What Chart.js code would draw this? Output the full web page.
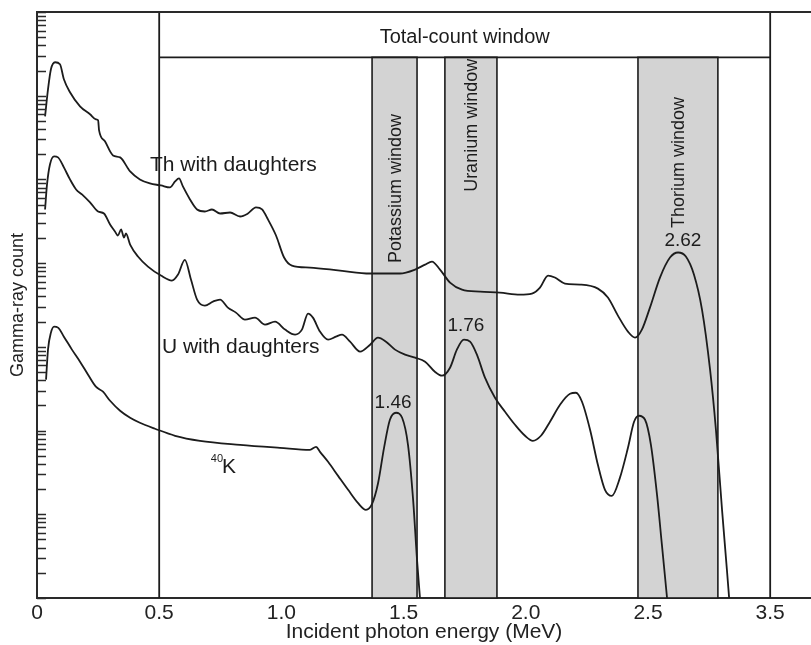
<!DOCTYPE html>
<html>
<head>
<meta charset="utf-8">
<script src="https://cdn.jsdelivr.net/npm/chart.js@4.4.1/dist/chart.umd.min.js"></script>
<style>
  html, body { margin: 0; padding: 0; background: #ffffff; }
  #wrap { width: 811px; height: 645px; position: relative; }
</style>
</head>
<body>
<div id="wrap"><canvas id="chart" width="811" height="645"></canvas></div>
<script>
// ---------------- data (energy in MeV, log10 of gamma-ray count) ----------------
const xTickValues = [0, 0.5, 1.0, 1.5, 2.0, 2.5, 3.0];
const xTickLabels = ['0', '0.5', '1.0', '1.5', '2.0', '2.5', '3.5'];
const yDecadeExponents = [0, 1, 2, 3, 4, 5, 6];
const yMinorMultipliers = [1, 2, 3, 4, 5, 6, 7, 8, 9];

const thSpectrum = [
  [0.033,5.754],[0.045,6.077],[0.057,6.316],[0.074,6.400],[0.094,6.376],[0.110,6.196],
  [0.135,6.041],[0.176,5.873],[0.217,5.778],[0.241,5.718],[0.250,5.706],[0.254,5.586],
  [0.278,5.455],[0.311,5.287],[0.340,5.263],[0.381,5.096],[0.421,5.000],[0.462,4.952],
  [0.507,4.928],[0.544,4.904],[0.565,4.976],[0.581,5.012],[0.597,4.916],[0.626,4.761],
  [0.655,4.641],[0.687,4.617],[0.716,4.641],[0.749,4.593],[0.790,4.605],[0.831,4.557],
  [0.863,4.593],[0.896,4.665],[0.921,4.641],[0.945,4.522],[0.978,4.330],[1.011,4.067],
  [1.043,3.971],[1.117,3.947],[1.240,3.911],[1.363,3.876],[1.485,3.876],[1.547,3.923],
  [1.588,3.983],[1.616,4.019],[1.649,3.923],[1.690,3.768],[1.739,3.684],[1.813,3.660],
  [1.894,3.648],[1.976,3.624],[2.025,3.636],[2.058,3.708],[2.091,3.852],[2.119,3.828],
  [2.160,3.756],[2.222,3.744],[2.295,3.696],[2.336,3.589],[2.377,3.373],[2.418,3.182],
  [2.447,3.110],[2.475,3.206],[2.508,3.469],[2.549,3.828],[2.590,4.067],[2.623,4.127],
  [2.655,4.079],[2.688,3.864],[2.721,3.445],[2.754,2.727],[2.778,2.010],[2.803,1.053],
  [2.823,0.335],[2.832,0]
];

const uSpectrum = [
  [0.033,4.641],[0.041,4.940],[0.053,5.179],[0.070,5.275],[0.086,5.263],[0.110,5.144],
  [0.135,5.000],[0.160,4.880],[0.184,4.821],[0.217,4.725],[0.250,4.617],[0.274,4.593],
  [0.299,4.462],[0.319,4.378],[0.331,4.330],[0.344,4.402],[0.356,4.306],[0.364,4.354],
  [0.381,4.222],[0.413,4.079],[0.454,3.959],[0.507,3.852],[0.552,3.792],[0.577,3.864],
  [0.605,4.040],[0.630,3.804],[0.655,3.565],[0.687,3.493],[0.720,3.541],
  [0.749,3.565],[0.781,3.469],[0.814,3.409],[0.851,3.325],[0.892,3.349],[0.933,3.266],
  [0.974,3.301],[1.015,3.206],[1.056,3.146],[1.084,3.206],[1.109,3.397],[1.129,3.349],
  [1.158,3.182],[1.191,3.086],[1.223,3.122],[1.248,3.146],[1.281,3.062],[1.322,2.943],
  [1.363,3.026],[1.395,3.110],[1.428,3.062],[1.465,2.967],[1.506,2.907],[1.547,2.871],
  [1.588,2.823],[1.628,2.703],[1.657,2.656],[1.690,2.751],[1.718,2.967],[1.747,3.086],
  [1.772,3.062],[1.800,2.907],[1.833,2.632],[1.874,2.392],[1.915,2.225],[1.956,2.069],
  [1.997,1.938],[2.029,1.878],[2.062,1.938],[2.099,2.105],[2.140,2.309],[2.181,2.440],
  [2.205,2.452],[2.230,2.344],[2.263,2.010],[2.295,1.591],[2.324,1.292],[2.352,1.220],
  [2.385,1.435],[2.418,1.794],[2.443,2.105],[2.463,2.177],[2.488,2.129],[2.512,1.830],
  [2.537,1.232],[2.557,0.634],[2.578,0]
];

const kSpectrum = [
  [0.037,2.608],[0.045,2.967],[0.057,3.170],[0.070,3.242],[0.086,3.230],[0.110,3.122],
  [0.143,2.967],[0.176,2.823],[0.209,2.667],[0.241,2.524],[0.270,2.464],[0.299,2.356],
  [0.340,2.237],[0.381,2.153],[0.421,2.093],[0.483,2.022],[0.565,1.938],[0.667,1.878],
  [0.831,1.830],[0.994,1.794],[1.117,1.770],[1.142,1.806],[1.158,1.746],[1.191,1.627],
  [1.232,1.459],[1.273,1.292],[1.313,1.136],[1.346,1.053],[1.371,1.124],[1.395,1.364],
  [1.420,1.794],[1.444,2.129],[1.469,2.213],[1.494,2.153],[1.518,1.830],[1.539,1.172],
  [1.555,0.455],[1.567,0]
];

const windowNames = ['Potassium window', 'Uranium window', 'Thorium window'];
const windowStart = [1.371, 1.669, 2.459];
const windowEnd   = [1.555, 1.882, 2.786];
const totalWindow = [0.5, 3.0];
const totalWindowName = 'Total-count window';
const totalWindowBoxLog = 6.459;       // lower edge of the total-count box (log10 count)
const peakLabels = ['1.46', '1.76', '2.62'];
const seriesNames = ['Th with daughters', 'U with daughters', 'K'];

// ---------------- presentation ----------------
const INK = '#1c1c1c';
const AXIS = '#2a2a2a';
const FONT = '"Liberation Sans", Arial, Helvetica, sans-serif';
const layoutText = {
  total:   { x: 1.75,  y: 6.699 },
  windowY: [4.892, 5.646, 5.203],
  th:      { x: 0.462, y: 5.167 },
  u:       { x: 0.511, y: 2.990 },
  k:       { x: 0.757, y: 1.567, supY: 1.66 },
  peaks:   [{ x: 1.457, y: 2.333 }, { x: 1.755, y: 3.254 }, { x: 2.643, y: 4.270 }]
};

const toPoints = s => s.map(p => ({ x: p[0], y: Math.pow(10, p[1]) }));
const yTickValues = [];
yDecadeExponents.forEach(e => yMinorMultipliers.forEach(m => yTickValues.push(m * Math.pow(10, e))));
yTickValues.push(1e7);

const decor = {
  id: 'decor',
  beforeDatasetsDraw(chart) {
    const { ctx, chartArea: a, scales: { x, y } } = chart;
    const boxY = y.getPixelForValue(Math.pow(10, totalWindowBoxLog));
    ctx.save();
    // element windows
    for (let i = 0; i < windowNames.length; i++) {
      const x0 = x.getPixelForValue(windowStart[i]);
      const x1 = x.getPixelForValue(windowEnd[i]);
      ctx.fillStyle = '#d3d3d3';
      ctx.fillRect(x0, boxY, x1 - x0, a.bottom - boxY);
      ctx.strokeStyle = INK;
      ctx.lineWidth = 1.6;
      ctx.strokeRect(x0, boxY, x1 - x0, a.bottom - boxY);
    }
    // total-count window
    const t0 = x.getPixelForValue(totalWindow[0]);
    const t1 = x.getPixelForValue(totalWindow[1]);
    ctx.strokeStyle = INK;
    ctx.lineWidth = 1.8;
    ctx.beginPath();
    ctx.moveTo(t0, a.top); ctx.lineTo(t0, a.bottom);
    ctx.moveTo(t1, a.top); ctx.lineTo(t1, a.bottom);
    ctx.moveTo(t0, boxY); ctx.lineTo(t1, boxY);
    ctx.stroke();
    // window labels (rotated)
    ctx.fillStyle = INK;
    ctx.font = '18px ' + FONT;
    ctx.textAlign = 'center';
    ctx.textBaseline = 'middle';
    for (let i = 0; i < windowNames.length; i++) {
      const cx = x.getPixelForValue((windowStart[i] + windowEnd[i]) / 2);
      const cy = y.getPixelForValue(Math.pow(10, layoutText.windowY[i]));
      ctx.save();
      ctx.translate(cx, cy);
      ctx.rotate(-Math.PI / 2);
      ctx.fillText(windowNames[i], 0, 1);
      ctx.restore();
    }
    ctx.font = '20px ' + FONT;
    ctx.fillText(totalWindowName, x.getPixelForValue(layoutText.total.x), y.getPixelForValue(Math.pow(10, layoutText.total.y)));
    ctx.restore();
  },
  afterDraw(chart) {
    const { ctx, chartArea: a, scales: { x, y } } = chart;
    ctx.save();
    // top frame line
    ctx.strokeStyle = AXIS;
    ctx.lineWidth = 2;
    ctx.beginPath();
    ctx.moveTo(a.left, a.top); ctx.lineTo(a.right, a.top);
    ctx.stroke();
    // inward log ticks on the y axis
    ctx.lineWidth = 1.6;
    ctx.beginPath();
    y.ticks.forEach(t => {
      const py = Math.round(y.getPixelForValue(t.value)) + 0.5;
      ctx.moveTo(a.left, py); ctx.lineTo(a.left + 9, py);
    });
    ctx.stroke();
    // series labels
    ctx.fillStyle = INK;
    ctx.textBaseline = 'middle';
    ctx.font = '21px ' + FONT;
    ctx.textAlign = 'left';
    ctx.fillText(seriesNames[0], x.getPixelForValue(layoutText.th.x), y.getPixelForValue(Math.pow(10, layoutText.th.y)));
    ctx.fillText(seriesNames[1], x.getPixelForValue(layoutText.u.x), y.getPixelForValue(Math.pow(10, layoutText.u.y)));
    const kx = x.getPixelForValue(layoutText.k.x);
    ctx.fillText(seriesNames[2], kx, y.getPixelForValue(Math.pow(10, layoutText.k.y)));
    ctx.font = '11px ' + FONT;
    ctx.textAlign = 'right';
    ctx.fillText('40', kx + 1, y.getPixelForValue(Math.pow(10, layoutText.k.supY)));
    // peak energies
    ctx.font = '19px ' + FONT;
    ctx.textAlign = 'center';
    layoutText.peaks.forEach((p, i) => {
      ctx.fillText(peakLabels[i], x.getPixelForValue(p.x), y.getPixelForValue(Math.pow(10, p.y)));
    });
    ctx.restore();
  }
};

const lineStyle = {
  borderColor: INK,
  borderWidth: 1.8,
  pointRadius: 0,
  fill: false,
  cubicInterpolationMode: 'monotone'
};

new Chart(document.getElementById('chart'), {
  type: 'line',
  data: {
    datasets: [
      Object.assign({ label: seriesNames[0], data: toPoints(thSpectrum) }, lineStyle),
      Object.assign({ label: seriesNames[1], data: toPoints(uSpectrum) }, lineStyle),
      Object.assign({ label: '40K', data: toPoints(kSpectrum) }, lineStyle)
    ]
  },
  options: {
    responsive: false,
    animation: false,
    events: [],
    layout: { padding: { top: 12, right: 0, left: 0, bottom: 0 } },
    plugins: { legend: { display: false }, tooltip: { enabled: false } },
    scales: {
      x: {
        type: 'linear',
        min: 0,
        max: 3.167,
        afterBuildTicks: s => { s.ticks = xTickValues.map(v => ({ value: v })); },
        afterFit: s => { s.height = 47; },
        grid: { display: false, drawTicks: false },
        border: { display: true, color: AXIS, width: 2 },
        ticks: {
          padding: 3,
          color: '#222',
          font: { size: 21, family: FONT },
          maxRotation: 0,
          autoSkip: false,
          callback: (v, i) => xTickLabels[i]
        },
        title: {
          display: true,
          text: 'Incident photon energy (MeV)',
          color: '#222',
          font: { size: 21, family: FONT },
          padding: { top: 0, bottom: 0 }
        }
      },
      y: {
        type: 'logarithmic',
        min: 1,
        max: 1e7,
        afterBuildTicks: s => { s.ticks = yTickValues.map(v => ({ value: v })); },
        afterFit: s => { s.width = 37; },
        grid: { display: false, drawTicks: false },
        border: { display: true, color: AXIS, width: 2 },
        ticks: { display: false },
        title: {
          display: true,
          text: 'Gamma-ray count',
          color: '#222',
          font: { size: 18, family: FONT },
          padding: { top: 7, bottom: 0 }
        }
      }
    }
  },
  plugins: [decor]
});
</script>
</body>
</html>
